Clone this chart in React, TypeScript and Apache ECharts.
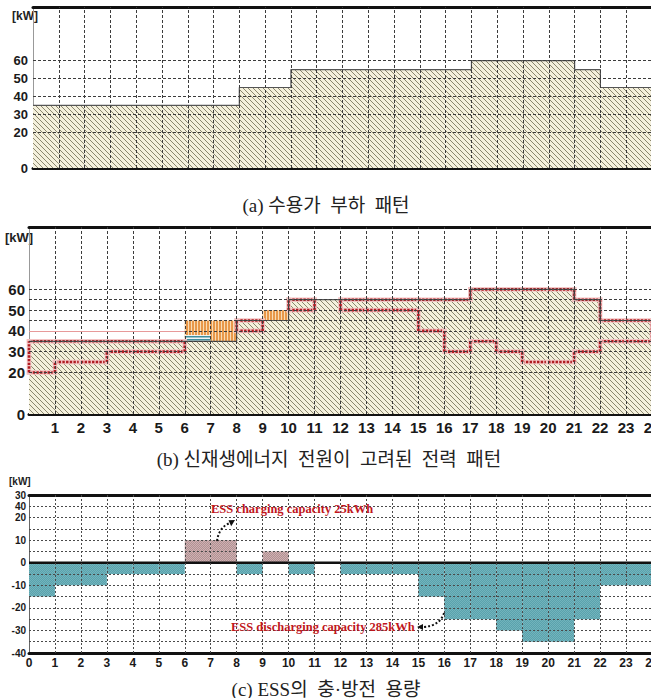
import React, { useEffect, useRef } from 'react';
import * as echarts from 'echarts';

// ---- data (kW per hour slot h .. h+1) ----
const loadKW = [35, 35, 35, 35, 35, 35, 35, 35, 45, 45, 55, 55, 55, 55, 55, 55, 55, 60, 60, 60, 60, 55, 45, 45];
const essChargeKW = [0, 0, 0, 0, 0, 0, 10, 10, 0, 5, 0, 0, 0, 0, 0, 0, 0, 0, 0, 0, 0, 0, 0, 0];
const essDischargeKW = [-15, -10, -10, -5, -5, -5, 0, 0, -5, 0, -5, 0, -5, -5, -5, -15, -25, -25, -30, -35, -35, -25, -10, -10];
// blue striped band in panel (b): [hour, from kW, to kW]
const stripeBand = [[6, 35, 38]];
// tick labels
const loadTickValues = [0, 20, 30, 40, 50, 60];
const panelAGridValues = [20, 30, 40, 50, 60];
const panelBGridValues = [20, 30, 35, 40, 45, 50, 55, 60];
const essTickValues = [30, 25, 20, 10, 0, -10, -20, -30, -40];
const essTickTexts = ['30', '40', '20', '10', '0', '-10', '-20', '-30', '-40'];
const essGridValues = [25, 20, 15, 10, 5, -5, -10, -15, -20, -25, -30, -35];
const captions = ['(a) 수용가  부하  패턴', '(b) 신재생에너지  전원이  고려된  전력  패턴', '(c) ESS의  충·방전  용량'];
const chargeNote = 'ESS charging capacity 25kWh';
const dischargeNote = 'ESS discharging capacity 285kWh';

const NARROW = "'Liberation Sans Narrow','Arial Narrow','Liberation Sans',sans-serif";
const SERIF = "'Liberation Serif','Noto Sans CJK KR',serif";

function makePattern(size: number, draw: (g: CanvasRenderingContext2D, s: number) => void) {
  const c = document.createElement('canvas');
  c.width = size;
  c.height = size;
  const g = c.getContext('2d')!;
  draw(g, size);
  return { image: c, repeat: 'repeat', imageWidth: size, imageHeight: size } as any;
}

export default function App() {
  const ref = useRef<HTMLDivElement>(null);
  useEffect(() => {
    if (!ref.current) return;
    const hatch = makePattern(5, (g, s) => {
      g.fillStyle = '#f4f0dc';
      g.fillRect(0, 0, s, s);
      g.strokeStyle = '#8a866e';
      g.lineWidth = 1;
      for (const k of [-1, 0, 1]) {
        g.beginPath();
        g.moveTo(k * s, 0);
        g.lineTo(k * s + s, s);
        g.stroke();
      }
    });
    const orange = makePattern(3, (g, s) => {
      g.fillStyle = '#f8dcb6';
      g.fillRect(0, 0, s, s);
      g.fillStyle = '#e8984a';
      g.fillRect(0, 0, 2, s);
    });
    const blue = makePattern(3, (g, s) => {
      g.fillStyle = '#f2f6f6';
      g.fillRect(0, 0, s, s);
      g.fillStyle = '#3f8e9c';
      g.fillRect(0, 0, s, 1.5);
    });
    const teal = makePattern(2, (g, s) => {
      g.fillStyle = '#5aa3ad';
      g.fillRect(0, 0, s, s);
      g.fillStyle = '#72b3bc';
      g.fillRect(0, 0, 1, 1);
      g.fillRect(1, 1, 1, 1);
    });
    const mauve = makePattern(2, (g, s) => {
      g.fillStyle = '#b39193';
      g.fillRect(0, 0, s, s);
      g.fillStyle = '#cdb1b2';
      g.fillRect(0, 0, 1, 1);
      g.fillRect(1, 1, 1, 1);
    });

    const chart = echarts.init(ref.current, undefined, { renderer: 'svg' });

    const rectRender = (fill: any) => (params: any, api: any) => {
      const h = api.value(0);
      const lo = api.value(1);
      const hi = api.value(2);
      const p0 = api.coord([h, hi]);
      const p1 = api.coord([h + 1, lo]);
      return {
        type: 'rect',
        shape: { x: p0[0], y: Math.min(p0[1], p1[1]), width: p1[0] - p0[0], height: Math.abs(p1[1] - p0[1]) },
        style: { fill },
      };
    };

    // outline of discharge region (load vs. net load) in panel (b)
    const netKW = loadKW.map((v, i) => v + Math.min(essDischargeKW[i], 0));
    const segs: number[][] = [];
    loadKW.forEach((v, h) => {
      if (essDischargeKW[h] < 0) {
        segs.push([h, v, h + 1, v]);
        segs.push([h, netKW[h], h + 1, netKW[h]]);
      }
    });
    for (let b = 0; b <= 24; b++) {
      const A = b > 0 && essDischargeKW[b - 1] < 0 ? [netKW[b - 1], loadKW[b - 1]] : null;
      const B = b < 24 && essDischargeKW[b] < 0 ? [netKW[b], loadKW[b]] : null;
      if (A && B) {
        if (A[0] <= B[1] && B[0] <= A[1]) {
          if (A[0] !== B[0]) segs.push([b, Math.min(A[0], B[0]), b, Math.max(A[0], B[0])]);
          if (A[1] !== B[1]) segs.push([b, Math.min(A[1], B[1]), b, Math.max(A[1], B[1])]);
        } else {
          segs.push([b, A[0], b, A[1]]);
          segs.push([b, B[0], b, B[1]]);
        }
      } else if (A) segs.push([b, A[0], b, A[1]]);
      else if (B) segs.push([b, B[0], b, B[1]]);
    }

    const stepData = [...loadKW.map((v, h) => [h, v]), [24, loadKW[loadKW.length - 1]]];
    const hourLines = Array.from({ length: 23 }, (_, i) => ({ xAxis: i + 1 }));

    const gridLineMark = (yVals: number[], extra: any[] = [], dash: any = [3, 2], color = '#3c3c3c') => ({
      silent: true,
      symbol: ['none', 'none'],
      label: { show: false },
      emphasis: { disabled: true },
      lineStyle: { color, width: 1, type: dash },
      data: [...yVals.map((v) => ({ yAxis: v })), ...hourLines, ...extra],
    });

    const bottomX = (g: number, label: any) => ({
      type: 'value', gridIndex: g, min: 0, max: 24, interval: 1, position: 'bottom',
      axisLine: { show: true, onZero: false, lineStyle: { color: '#111', width: 3 } },
      axisTick: { show: false },
      axisLabel: label,
      splitLine: { show: false },
    });
    const topX = (g: number) => ({
      type: 'value', gridIndex: g, min: 0, max: 24, interval: 1, position: 'top',
      axisLine: { show: true, onZero: false, lineStyle: { color: '#111', width: 3 } },
      axisTick: { show: false },
      axisLabel: { show: false },
      splitLine: { show: false },
    });
    const loadY = (g: number, fontSize: number, margin: number) => ({
      type: 'value', gridIndex: g, min: 0, max: 90, interval: 10,
      axisLine: { show: true, lineStyle: { color: '#999', width: 1 } },
      axisTick: { show: false },
      splitLine: { show: false },
      axisLabel: {
        formatter: (v: number) => (loadTickValues.includes(v) ? String(v) : ''),
        fontFamily: NARROW, fontWeight: 'bold', fontSize, color: '#1a1a1a', margin,
        showMinLabel: true, showMaxLabel: true,
      },
    });

    const option: any = {
      animation: false,
      backgroundColor: '#ffffff',
      grid: [
        { left: 33, top: 7, width: 619, height: 161, outerBoundsMode: 'none' },
        { left: 29, top: 227, width: 623, height: 187, outerBoundsMode: 'none' },
        { left: 29, top: 495, width: 623, height: 158, outerBoundsMode: 'none' },
      ],
      xAxis: [
        bottomX(0, { show: false }),
        topX(0),
        bottomX(1, {
          formatter: (v: number) => (v === 0 ? '' : String(v)),
          fontFamily: NARROW, fontWeight: 'bold', fontSize: 15, color: '#1a1a1a', margin: 6,
          showMinLabel: true, showMaxLabel: true,
        }),
        topX(1),
        bottomX(2, {
          fontFamily: NARROW, fontWeight: 'bold', fontSize: 12, color: '#1a1a1a', margin: 4,
          showMinLabel: true, showMaxLabel: true,
        }),
        topX(2),
      ],
      yAxis: [
        loadY(0, 13, 5),
        loadY(1, 15, 4),
        {
          type: 'value', gridIndex: 2, min: -40, max: 30, interval: 5,
          axisLine: { show: true, lineStyle: { color: '#666', width: 1 } },
          axisTick: { show: false },
          splitLine: { show: false },
          axisLabel: {
            formatter: (v: number) => {
              const i = essTickValues.indexOf(v);
              return i >= 0 ? essTickTexts[i] : '';
            },
            fontFamily: NARROW, fontWeight: 'bold', fontSize: 10, color: '#1a1a1a', margin: 3,
            showMinLabel: true, showMaxLabel: true,
          },
        },
      ],
      series: [
        // panel (a)
        {
          type: 'custom', name: 'load-a', xAxisIndex: 0, yAxisIndex: 0,
          dimensions: ['hour', 'from', 'to'], encode: { x: 0, y: [1, 2] },
          renderItem: rectRender(hatch),
          data: loadKW.map((v, h) => [h, 0, v]),
        },
        {
          type: 'line', name: 'load-a-line', xAxisIndex: 0, yAxisIndex: 0, step: 'end',
          symbol: 'none', lineStyle: { color: '#555', width: 1.2 },
          data: stepData,
          markLine: gridLineMark(panelAGridValues),
        },
        // panel (b)
        {
          type: 'custom', name: 'load-b', xAxisIndex: 2, yAxisIndex: 1,
          dimensions: ['hour', 'from', 'to'], encode: { x: 0, y: [1, 2] },
          renderItem: rectRender(hatch),
          data: loadKW.map((v, h) => [h, 0, v]),
        },
        {
          type: 'custom', name: 'charge-b', xAxisIndex: 2, yAxisIndex: 1,
          dimensions: ['hour', 'from', 'to'], encode: { x: 0, y: [1, 2] },
          renderItem: rectRender(orange),
          data: essChargeKW.map((c, h) => [h, loadKW[h], loadKW[h] + c]).filter((d) => d[2] > d[1]),
        },
        {
          type: 'custom', name: 'band-b', xAxisIndex: 2, yAxisIndex: 1,
          dimensions: ['hour', 'from', 'to'], encode: { x: 0, y: [1, 2] },
          renderItem: rectRender(blue),
          data: stripeBand,
        },
        {
          type: 'line', name: 'load-b-line', xAxisIndex: 2, yAxisIndex: 1, step: 'end',
          symbol: 'none', lineStyle: { color: '#555', width: 1.2 },
          data: stepData,
          markLine: gridLineMark(panelBGridValues, [
            [{ coord: [0, 40], lineStyle: { color: '#e79a9a', type: 'solid', width: 1 } }, { coord: [6, 40] }],
          ]),
        },
        {
          type: 'custom', name: 'discharge-outline', xAxisIndex: 2, yAxisIndex: 1,
          dimensions: ['x1', 'y1', 'x2', 'y2'], encode: { x: [0, 2], y: [1, 3] },
          renderItem: (params: any, api: any) => {
            const a = api.coord([api.value(0), api.value(1)]);
            const b = api.coord([api.value(2), api.value(3)]);
            const shape = { x1: a[0], y1: a[1], x2: b[0], y2: b[1] };
            return {
              type: 'group',
              children: [
                { type: 'line', shape, style: { stroke: '#f3c3c3', lineWidth: 4.5, lineCap: 'square' } },
                { type: 'line', shape, style: { stroke: '#b01c22', lineWidth: 2.6, lineDash: [2.4, 1.3] } },
              ],
            };
          },
          data: segs,
        },
        // panel (c)
        {
          type: 'custom', name: 'charge-c', xAxisIndex: 4, yAxisIndex: 2,
          dimensions: ['hour', 'from', 'to'], encode: { x: 0, y: [1, 2] },
          renderItem: rectRender(mauve),
          data: essChargeKW.map((v, h) => [h, 0, v]).filter((d) => d[2] > 0),
        },
        {
          type: 'custom', name: 'discharge-c', xAxisIndex: 4, yAxisIndex: 2,
          dimensions: ['hour', 'from', 'to'], encode: { x: 0, y: [1, 2] },
          renderItem: rectRender(teal),
          data: essDischargeKW.map((v, h) => [h, v, 0]).filter((d) => d[1] < 0),
        },
        {
          type: 'line', name: 'zero-c', xAxisIndex: 4, yAxisIndex: 2,
          symbol: 'none', lineStyle: { color: '#111', width: 2.5 },
          data: [[0, 0], [24, 0]],
          markLine: gridLineMark(essGridValues, [], [2, 2], '#4a4a4a'),
        },
      ],
      graphic: [
        { type: 'text', left: 12, top: 10, style: { text: '[kW]', fontFamily: NARROW, fontWeight: 'bold', fontSize: 12, fill: '#222' } },
        { type: 'text', left: 5, top: 231, style: { text: '[kW]', fontFamily: NARROW, fontWeight: 'bold', fontSize: 13, fill: '#222' } },
        { type: 'text', left: 9, top: 476, style: { text: '[kW]', fontFamily: NARROW, fontWeight: 'bold', fontSize: 10, fill: '#222' } },
        { type: 'text', x: 326, y: 205, style: { text: captions[0], fontFamily: SERIF, fontSize: 19, fill: '#222', align: 'center', verticalAlign: 'middle' } },
        { type: 'text', x: 329, y: 459, style: { text: captions[1], fontFamily: SERIF, fontSize: 19, fill: '#222', align: 'center', verticalAlign: 'middle' } },
        { type: 'text', x: 326, y: 689, style: { text: captions[2], fontFamily: SERIF, fontSize: 19, fill: '#222', align: 'center', verticalAlign: 'middle' } },
        { type: 'text', x: 211, y: 509, z: 10, style: { text: chargeNote, fontFamily: SERIF, fontWeight: 'bold', fontSize: 12.5, fill: '#c0161d', verticalAlign: 'middle' } },
        { type: 'text', x: 231, y: 627, z: 10, style: { text: dischargeNote, fontFamily: SERIF, fontWeight: 'bold', fontSize: 12.5, fill: '#c0161d', verticalAlign: 'middle' } },
        { type: 'bezierCurve', z: 10, shape: { x1: 217, y1: 541, cpx1: 219, cpy1: 527, x2: 230, y2: 523 }, style: { stroke: '#111', lineWidth: 2, lineDash: [2, 2], fill: null } },
        { type: 'polygon', z: 10, shape: { points: [[235, 520], [228.5, 520.2], [231.2, 526.2]] }, style: { fill: '#111' } },
        { type: 'bezierCurve', z: 10, shape: { x1: 444, y1: 613, cpx1: 440, cpy1: 626, x2: 423, y2: 627 }, style: { stroke: '#111', lineWidth: 2, lineDash: [2, 2], fill: null } },
        { type: 'polygon', z: 10, shape: { points: [[417, 627], [423, 624], [423, 630]] }, style: { fill: '#111' } },
      ],
    };
    chart.setOption(option);
    return () => chart.dispose();
  }, []);
  return (
    <div
      ref={ref}
      style={{ position: 'fixed', left: 0, top: 0, width: 651, height: 698, background: '#fff' }}
    />
  );
}
